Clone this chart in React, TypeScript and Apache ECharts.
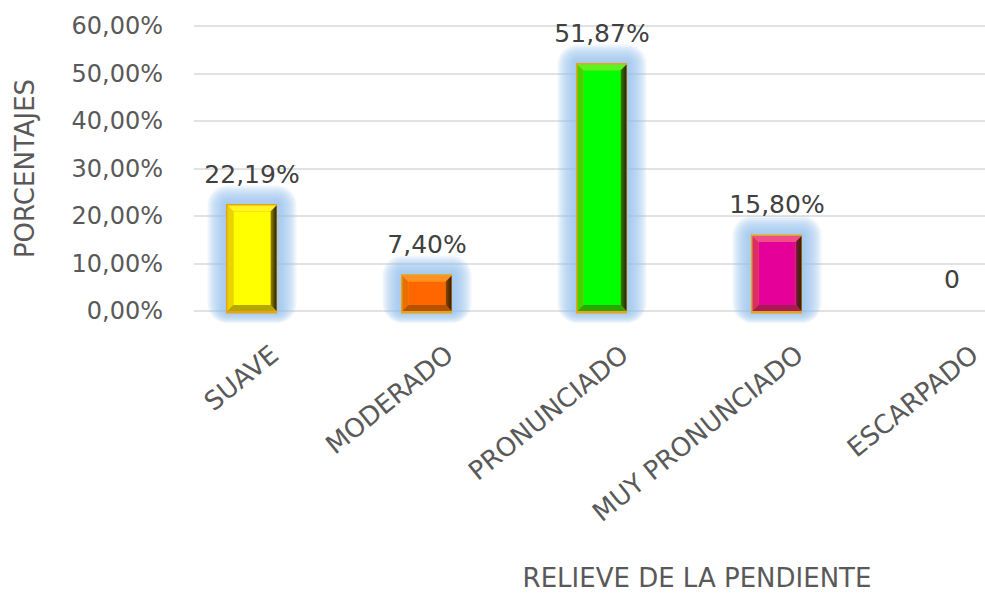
import React, { useEffect, useRef } from "react";
import * as echarts from "echarts";

const categories = ["SUAVE", "MODERADO", "PRONUNCIADO", "MUY PRONUNCIADO", "ESCARPADO"];
const values = [22.19, 7.4, 51.87, 15.8, 0];
const barColors = ["#FFFF00", "#FF6600", "#00FF00", "#E6009A", "#999999"];
const yTicks = [0, 10, 20, 30, 40, 50, 60];

const FONT = "DejaVu Sans";
const GRID_TOP = 26;
const GRID_H = 285;

function hexToRgb(h: string) {
  const n = parseInt(h.slice(1), 16);
  return [(n >> 16) & 255, (n >> 8) & 255, n & 255];
}
function mix(a: string, b: string, t: number) {
  const A = hexToRgb(a);
  const B = hexToRgb(b);
  const c = A.map((v, i) => Math.round(v * (1 - t) + B[i] * t));
  return `rgb(${c[0]},${c[1]},${c[2]})`;
}

function fmtPct(v: number) {
  return v.toFixed(2).replace(".", ",") + "%";
}

export default function App() {
  const ref = useRef<HTMLDivElement>(null);
  useEffect(() => {
    if (!ref.current) return;
    const chart = echarts.init(ref.current, undefined, { renderer: "svg" });
    const option: any = {
      animation: false,
      backgroundColor: "#ffffff",
      grid: [
        { left: 164.5, top: GRID_TOP, width: 875, height: GRID_H },
        { left: 194, top: GRID_TOP, width: 1006, height: GRID_H },
        { left: 187, top: GRID_TOP, width: 875, height: GRID_H },
      ],
      xAxis: [
        { type: "category", data: categories, gridIndex: 0, show: false },
        {
          type: "category",
          data: categories,
          gridIndex: 1,
          axisLine: { show: false },
          axisTick: { show: false },
          axisLabel: { show: false },
          name: "RELIEVE DE LA PENDIENTE",
          nameLocation: "middle",
          nameGap: 254,
          nameTextStyle: { fontFamily: FONT, fontSize: 26, color: "#595959" },
        },
        {
          type: "category",
          data: categories,
          gridIndex: 2,
          axisLine: { show: false },
          axisTick: { show: false },
          axisLabel: {
            interval: 0,
            rotate: 39,
            margin: 40,
            fontFamily: FONT,
            fontSize: 26,
            color: "#595959",
          },
        },
      ],
      yAxis: [
        { type: "value", gridIndex: 0, min: 0, max: 60, interval: 10, show: false },
        {
          type: "value",
          gridIndex: 1,
          min: yTicks[0],
          max: yTicks[yTicks.length - 1],
          interval: 10,
          axisLine: { show: false },
          axisTick: { show: false },
          splitLine: { lineStyle: { color: "#D9D9D9", width: 1.5 } },
          axisLabel: {
            margin: 31,
            fontFamily: FONT,
            fontSize: 24,
            color: "#595959",
            formatter: (v: number) => fmtPct(v),
          },
          name: "PORCENTAJES",
          nameLocation: "middle",
          nameGap: 156,
          nameRotate: 90,
          nameTextStyle: { fontFamily: FONT, fontSize: 26, color: "#595959" },
        },
        { type: "value", gridIndex: 2, min: 0, max: 60, show: false },
      ],
      series: [
        {
          type: "custom",
          xAxisIndex: 0,
          yAxisIndex: 0,
          clip: false,
          data: values.map((v, i) => [i, v]),
          renderItem: (params: any, api: any) => {
            const i = api.value(0);
            const v = api.value(1);
            const top = api.coord([i, v]);
            const base = api.coord([i, 0]);
            const bw = api.size([1, 0])[0] * 0.28;
            const x0 = top[0] - bw / 2;
            const x1 = x0 + bw;
            const y0 = top[1];
            const y1 = base[1];
            const c = barColors[i];
            const label = v === 0 ? "0" : fmtPct(v);
            const children: any[] = [];
            if (v > 0) {
              const b = 6;
              for (let k = 10; k >= 1; k--) {
                const e = k * 2;
                children.push({
                  type: "rect",
                  shape: { x: x0 - e, y: y0 - e, width: bw + 2 * e, height: y1 - y0 + e * 0.6 + e, r: e },
                  style: { fill: "rgba(150,192,236,0.16)" },
                });
              }
              children.push({
                type: "rect",
                shape: { x: x0 - 1.5, y: y0 - 1.5, width: bw + 2, height: y1 - y0 + 4 },
                style: { fill: "#E8A317" },
              });
              children.push({
                type: "polygon",
                shape: { points: [[x0, y0], [x0 + b, y0 + b], [x0 + b, y1 - b], [x0, y1]] },
                style: { fill: mix(c, "#C08000", 0.35) },
              });
              children.push({
                type: "polygon",
                shape: { points: [[x0, y0], [x1, y0], [x1 - b, y0 + b], [x0 + b, y0 + b]] },
                style: { fill: mix(c, "#FFE060", 0.35) },
              });
              children.push({
                type: "polygon",
                shape: { points: [[x1, y0], [x1, y1], [x1 - b, y1 - b], [x1 - b, y0 + b]] },
                style: {
                  fill: new echarts.graphic.LinearGradient(0, 0, 1, 0, [
                    { offset: 0, color: mix(c, "#3A2A00", 0.55) },
                    { offset: 1, color: "#2E2000" },
                  ]),
                },
              });
              children.push({
                type: "polygon",
                shape: { points: [[x0, y1], [x1, y1], [x1 - b, y1 - b], [x0 + b, y1 - b]] },
                style: { fill: mix(c, "#5A3A00", 0.45) },
              });
              children.push({
                type: "rect",
                shape: { x: x0 + b, y: y0 + b, width: bw - 2 * b, height: Math.max(0, y1 - y0 - 2 * b) },
                style: { fill: c },
              });
            }
            children.push({
              type: "text",
              x: (x0 + x1) / 2,
              y: y0 - 19,
              style: {
                text: label,
                fill: "#404040",
                fontFamily: FONT,
                fontSize: 25,
                align: "center",
                verticalAlign: "bottom",
              },
            });
            return { type: "group", children };
          },
        },
      ],
    };
    chart.setOption(option);
    return () => chart.dispose();
  }, []);
  return (
    <div
      ref={ref}
      style={{ position: "fixed", left: 0, top: 0, width: 1250, height: 593, background: "#fff" }}
    />
  );
}
